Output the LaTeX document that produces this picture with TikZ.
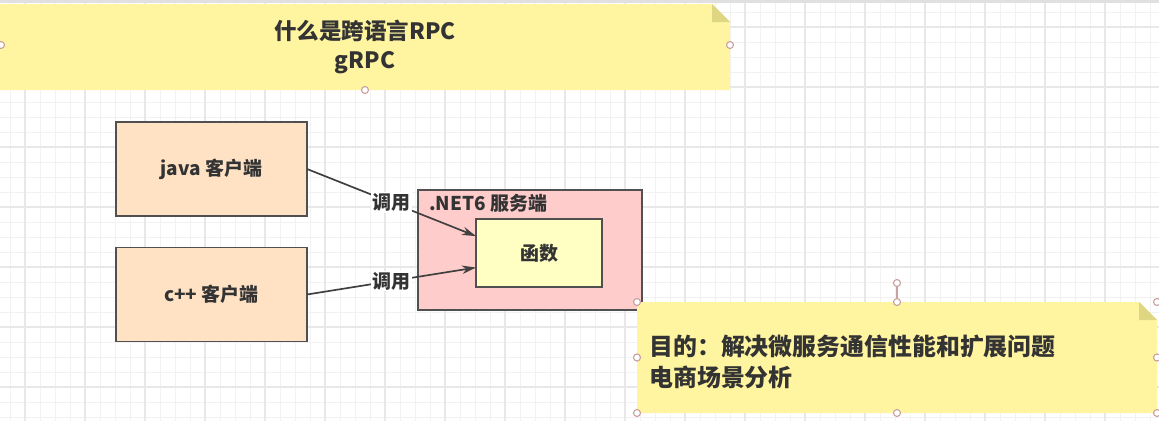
\documentclass[tikz,border=0pt]{standalone}
\usepackage{fontspec}
\setmainfont{Noto Sans CJK SC}
\usetikzlibrary{arrows.meta}

\definecolor{noteyellow}{RGB}{255,245,160}
\definecolor{notefold}{RGB}{222,214,130}
\definecolor{peach}{RGB}{255,226,196}
\definecolor{serverpink}{RGB}{255,204,204}
\definecolor{fnyellow}{RGB}{255,255,196}
\definecolor{edgegray}{RGB}{80,80,80}
\definecolor{handlepink}{RGB}{200,160,160}

\tikzset{
  boxfont/.style={font=\bfseries\fontsize{13.5}{16}\selectfont, text=black!80},
  client/.style={draw=edgegray, fill=peach, line width=1.4pt, inner sep=0pt, outer sep=0pt,
    minimum width=4.775cm, minimum height=2.35cm, boxfont},
  callarrow/.style={draw=black!75, line width=1.2pt, -{Stealth[length=10pt, width=6pt]}},
  calllabel/.style={fill=white, inner sep=1pt, boxfont},
  handle/.style={draw=handlepink, fill=white, line width=0.8pt},
}

\begin{document}
\begin{tikzpicture}[x=0.025cm, y=-0.025cm]
\useasboundingbox (0,0) rectangle (1159,421);
% Grid background
\fill[white] (0,0) rectangle (1159,421);
\foreach \x in {10,25,...,1159} \draw[black!5, line width=0.6pt] (\x,0) -- (\x,421);
\foreach \y in {12,27,...,421} \draw[black!5, line width=0.6pt] (0,\y) -- (1159,\y);
\foreach \x in {25,85,...,1159} \draw[black!9, line width=0.8pt] (\x,0) -- (\x,421);
\foreach \y in {27,87,...,421} \draw[black!9, line width=0.8pt] (0,\y) -- (1159,\y);
\fill[black!12] (0,0) rectangle (1159,3);
% Title note
\fill[noteyellow] (0,4) -- (712,4) -- (730,22) -- (730,90) -- (0,90) -- cycle;
\fill[notefold] (712,4) -- (730,22) -- (712,22) -- cycle;
\node[font=\bfseries\fontsize{16}{20}\selectfont, text=black!80, align=center] (title) at (365,47) {什么是跨语言RPC\\gRPC};
\foreach \p in {(1,45),(730,45),(365,90)} \draw[handle] \p circle (3.5);
% Clients
\node[client] (java) at (211.5,169) {java 客户端};
\node[client] (cpp) at (211.5,294.5) {c++ 客户端};
% Server
\node[draw=edgegray, fill=serverpink, line width=1.4pt, inner sep=0pt, outer sep=0pt,
  minimum width=5.6cm, minimum height=3cm] (server) at (530,250) {};
\node[anchor=west, boxfont, inner sep=0pt] (srvlbl) at (429,203) {.NET6 服务端};
\node[draw=edgegray, fill=fnyellow, line width=1.4pt, inner sep=0pt, outer sep=0pt,
  minimum width=3.15cm, minimum height=1.7cm, boxfont] (fn) at (539,253) {函数};
% Calls
\draw[callarrow] (java.east) -- node[calllabel] (call1) {调用} (fn.165);
\draw[callarrow] (cpp.east) -- node[calllabel] (call2) {调用} (fn.193);
% Goal note
\fill[noteyellow] (637,302) -- (1139,302) -- (1157,320) -- (1157,413) -- (637,413) -- cycle;
\fill[notefold] (1139,302) -- (1157,320) -- (1139,320) -- cycle;
\node[anchor=west, align=left, font=\bfseries\fontsize{17}{22.5}\selectfont, text=black!80, inner sep=0pt] (goal) at (649,362)
  {目的：解决微服务通信性能和扩展问题\\电商场景分析};
% Selection handles of the goal note
\draw[handlepink, line width=0.8pt] (897,287) -- (897,302);
\foreach \p in {(637,302),(897,302),(1157,302),(637,357.5),(1157,357.5),(637,413),(897,413),(1157,413),(897,283)}
  \draw[handle] \p circle (3.5);
\end{tikzpicture}
\end{document}
